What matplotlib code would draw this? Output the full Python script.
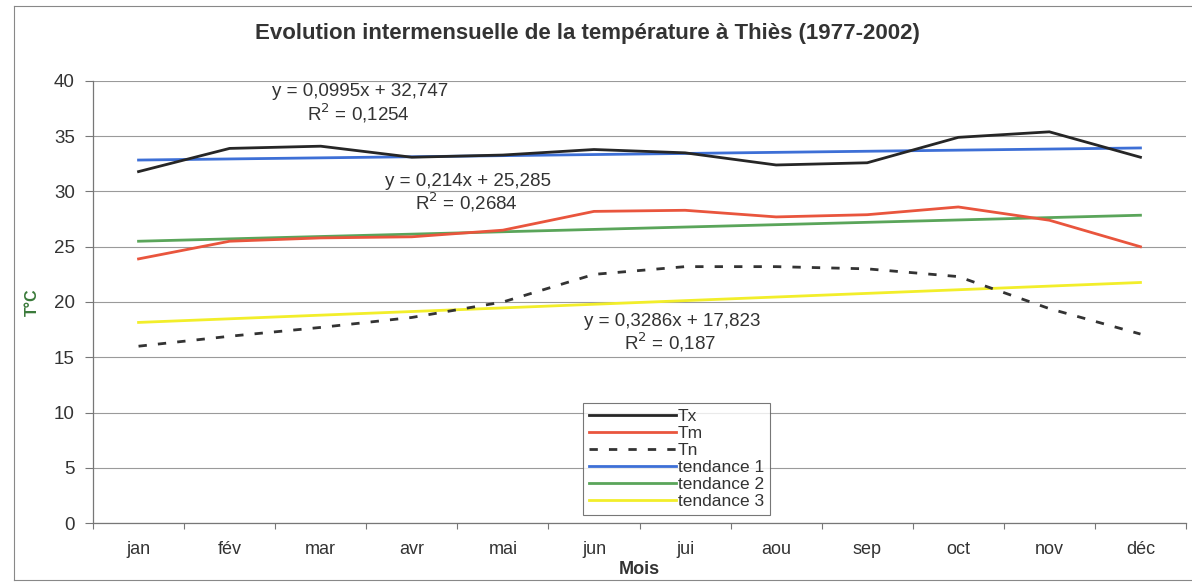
import numpy as np
import matplotlib.pyplot as plt
from matplotlib.lines import Line2D

plt.rcParams['font.family'] = ['Liberation Sans', 'DejaVu Sans']

# données mensuelles
mois = ['jan', 'fév', 'mar', 'avr', 'mai', 'jun', 'jui', 'aou', 'sep', 'oct', 'nov', 'déc']
tx = [31.8, 33.9, 34.1, 33.1, 33.3, 33.8, 33.5, 32.4, 32.6, 34.9, 35.4, 33.1]
tm = [23.9, 25.5, 25.8, 25.9, 26.5, 28.2, 28.3, 27.7, 27.9, 28.6, 27.4, 25.0]
tn = [16.0, 16.9, 17.7, 18.6, 20.0, 22.5, 23.2, 23.2, 23.0, 22.3, 19.4, 17.1]

# courbes de tendance (équations affichées)
pentes = [0.0995, 0.214, 0.3286]
ordonnees = [32.747, 25.285, 17.823]
r2 = ['0,1254', '0,2684', '0,187']

fig = plt.figure(figsize=(11.92, 5.84), dpi=100)
ax = fig.add_axes([93 / 1192, 1 - 523 / 584, (1186 - 93) / 1192, (523 - 81) / 584])

x = np.arange(len(mois)) + 0.5
xr = np.arange(1, len(mois) + 1)

ax.plot(x, tx, color='#262626', lw=2.0, label='Tx', zorder=4)
ax.plot(x, tm, color='#e9553d', lw=2.0, label='Tm', zorder=4)
ax.plot(x, tn, color='#333333', lw=2.0, ls=(0, (3, 4)), label='Tn', zorder=4)

couleurs_tend = ['#3d6fd6', '#5aa55a', '#f2ee2a']
for i, c in enumerate(couleurs_tend):
    ax.plot(x, pentes[i] * xr + ordonnees[i], color=c, lw=2.0,
            label='tendance %d' % (i + 1), zorder=3)

# équations
eqs = [(360, 92), (468, 181), (672, 321)]
for i, (px, py) in enumerate(eqs):
    txt = 'y = %sx + %s' % (str(pentes[i]).replace('.', ','),
                            ('%.3f' % ordonnees[i]).replace('.', ','))
    fig.text(px / 1192, 1 - py / 584, txt, ha='center', va='center',
             fontsize=13.5, color='#333333')
    fig.text((px - 2) / 1192, 1 - (py + 21) / 584, r'R$^2$ = ' + r2[i],
             ha='center', va='center', fontsize=13.5, color='#333333')

ax.set_xlim(0, 12)
ax.set_ylim(0, 40)
ax.set_yticks(np.arange(0, 41, 5))
ax.set_xticks(np.arange(0, 13))
ax.set_xticklabels([])
ax.set_xticks(x, minor=True)
ax.set_xticklabels(mois, minor=True)
ax.tick_params(axis='x', which='minor', length=0, pad=13, labelsize=13, colors='#333333')
ax.tick_params(axis='x', which='major', length=4, direction='out', color='#777777')
ax.tick_params(axis='y', length=6, direction='out', color='#777777', labelsize=13.5,
               labelcolor='#333333', pad=7)

ax.grid(axis='y', color='#9a9a9a', lw=0.8)
ax.set_axisbelow(True)
for s in ['top', 'right']:
    ax.spines[s].set_visible(False)
for s in ['left', 'bottom']:
    ax.spines[s].set_color('#777777')
    ax.spines[s].set_linewidth(0.9)

ax.set_xlabel('Mois', fontsize=13, fontweight='bold', color='#333333', labelpad=2)
ax.set_ylabel('T°C', fontsize=11.5, fontweight='bold', color='#3a7a3a', labelpad=10)

fig.text(0.493, 1 - 33 / 584, 'Evolution intermensuelle de la température à Thiès (1977-2002)',
         ha='center', va='center', fontsize=16, fontweight='bold', color='#333333')

leg = ax.legend(loc='upper left', bbox_to_anchor=((583 - 93) / 1093, (523 - 403) / 442),
                borderaxespad=0, fontsize=12.5, handlelength=5.0, handletextpad=0.1,
                labelspacing=0.1, borderpad=0.35, frameon=True, fancybox=False,
                edgecolor='#555555')
leg.get_frame().set_linewidth(0.8)
for t in leg.get_texts():
    t.set_color('#333333')

# cadre extérieur du graphique
for xs, ys in [([14, 14], [6, 580]), ([14, 1192], [6, 6]), ([14, 1192], [580, 580])]:
    fig.add_artist(Line2D([v / 1192 for v in xs], [1 - v / 584 for v in ys],
                          color='#888888', lw=0.8))

plt.savefig('out.png', dpi=100)
